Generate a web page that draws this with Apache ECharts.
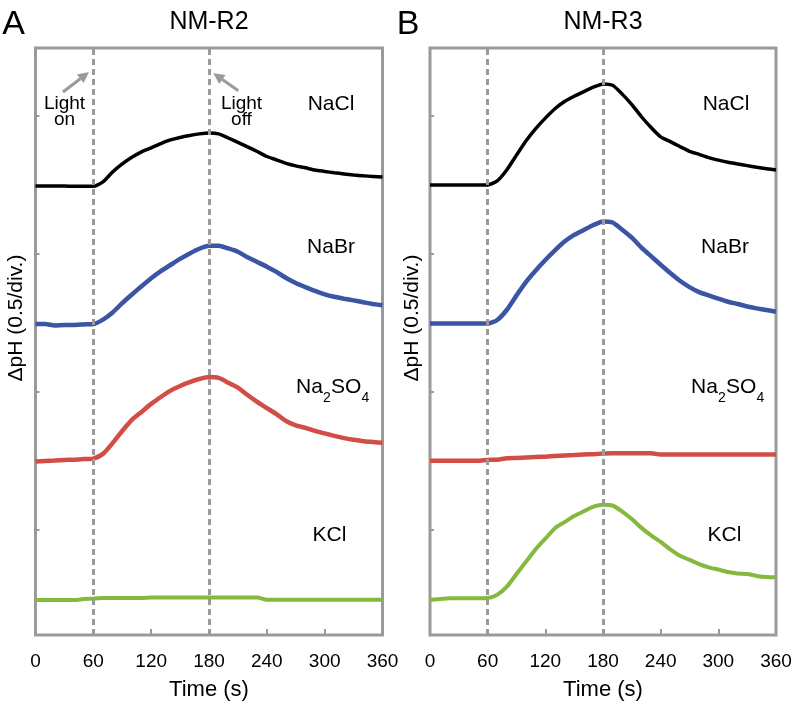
<!DOCTYPE html>
<html><head><meta charset="utf-8">
<script src="https://cdn.jsdelivr.net/npm/echarts@6/dist/echarts.min.js"></script>
<style>html,body{margin:0;padding:0;background:#fff}#c{width:796px;height:708px}</style>
</head><body><div id="c"></div>
<script>
// Time axis (s)
const times = [0,10,20,30,40,50,60,70,80,90,100,110,120,130,140,150,160,170,180,190,200,210,220,230,240,250,260,270,280,290,300,310,320,330,340,350,360];
const xTicks = [0,60,120,180,240,300,360];
const lightTimes = [60,180];
const yDivTicks = [0.5,1,1.5,2];   // 0.5 pH per division

// Panel A: NM-R2 (traces offset vertically, values in pH units)
const r2NaCl  = [1.746,1.746,1.746,1.746,1.745,1.745,1.745,1.761,1.797,1.826,1.850,1.870,1.884,1.900,1.913,1.922,1.929,1.935,1.938,1.935,1.920,1.904,1.888,1.871,1.853,1.841,1.828,1.819,1.812,1.804,1.799,1.794,1.790,1.786,1.783,1.781,1.779];
const r2NaBr  = [1.246,1.246,1.241,1.243,1.243,1.245,1.246,1.262,1.288,1.322,1.353,1.383,1.412,1.438,1.460,1.482,1.502,1.519,1.530,1.530,1.520,1.508,1.488,1.471,1.454,1.435,1.413,1.395,1.380,1.366,1.354,1.345,1.338,1.332,1.325,1.319,1.314];
const r2Na2SO4= [0.748,0.750,0.752,0.754,0.755,0.757,0.759,0.776,0.815,0.859,0.899,0.928,0.957,0.982,1.005,1.022,1.036,1.047,1.054,1.051,1.034,1.016,0.989,0.964,0.942,0.920,0.895,0.879,0.870,0.859,0.850,0.841,0.833,0.827,0.822,0.819,0.816];
const r2KCl   = [0.247,0.247,0.247,0.247,0.247,0.250,0.252,0.254,0.254,0.254,0.254,0.254,0.256,0.256,0.256,0.256,0.256,0.256,0.256,0.256,0.256,0.256,0.256,0.256,0.248,0.248,0.248,0.248,0.248,0.248,0.248,0.248,0.248,0.248,0.248,0.248,0.248];

// Panel B: NM-R3
const r3NaCl  = [1.750,1.750,1.750,1.750,1.750,1.750,1.750,1.765,1.805,1.858,1.910,1.954,1.992,2.026,2.052,2.071,2.088,2.104,2.116,2.111,2.079,2.041,1.997,1.958,1.924,1.907,1.889,1.872,1.861,1.849,1.840,1.832,1.826,1.820,1.814,1.809,1.804];
const r3NaBr  = [1.248,1.248,1.248,1.248,1.248,1.248,1.248,1.261,1.298,1.350,1.399,1.440,1.478,1.513,1.545,1.569,1.587,1.605,1.618,1.614,1.588,1.559,1.523,1.492,1.461,1.431,1.403,1.380,1.362,1.350,1.338,1.327,1.319,1.310,1.303,1.297,1.291];
const r3Na2SO4= [0.751,0.751,0.751,0.751,0.751,0.751,0.754,0.755,0.760,0.761,0.763,0.765,0.766,0.768,0.770,0.772,0.774,0.775,0.777,0.778,0.778,0.778,0.778,0.778,0.774,0.774,0.774,0.774,0.774,0.774,0.774,0.774,0.774,0.774,0.774,0.774,0.774];
const r3KCl   = [0.248,0.250,0.253,0.253,0.253,0.253,0.254,0.266,0.295,0.341,0.386,0.431,0.469,0.507,0.529,0.551,0.568,0.585,0.592,0.589,0.567,0.540,0.508,0.481,0.457,0.430,0.407,0.392,0.377,0.365,0.357,0.348,0.343,0.341,0.334,0.330,0.329];

const panels = [
  {title:'NM-R2', letter:'A', series:[r2NaCl, r2NaBr, r2Na2SO4, r2KCl]},
  {title:'NM-R3', letter:'B', series:[r3NaCl, r3NaBr, r3Na2SO4, r3KCl]}
];
const colors = ['#000000','#3a55a3','#d24d45','#84b93e'];
const widths = [3.5,4.5,4.5,4];
const FONT = '"Liberation Sans", Arial, Helvetica, sans-serif';
const GRAY = '#9a9a9a';

const chart = echarts.init(document.getElementById('c'), null, {renderer:'canvas'});
const pair = vals => times.map((t,i)=>[t, vals[i]]);

const grids = [
  {left:35.5, right:413.5, top:48, bottom:73, show:true, borderColor:GRAY, borderWidth:3, backgroundColor:'transparent'},
  {left:430, right:20, top:48, bottom:73, show:true, borderColor:GRAY, borderWidth:3, backgroundColor:'transparent'}
];
const xAxes = [0,1].map(i=>({
  gridIndex:i, type:'value', min:0, max:360, interval:60,
  axisLine:{show:false},
  axisTick:{show:true, inside:true, length:6, lineStyle:{color:GRAY, width:2}},
  axisLabel:{fontSize:19, color:'#000', margin:17, fontFamily:FONT, customValues:xTicks},
  splitLine:{show:false}
}));
const yAxes = [0,1].map(i=>({
  gridIndex:i, type:'value', min:0.12, max:2.246,
  axisLine:{show:false},
  axisTick:{show:true, inside:true, length:4, customValues:yDivTicks, lineStyle:{color:GRAY, width:2}},
  axisLabel:{show:false},
  splitLine:{show:false}
}));

const series = [];
panels.forEach((p,i)=>{
  series.push({
    type:'line', xAxisIndex:i, yAxisIndex:i, data:[], z:1, silent:true,
    markLine:{silent:true, symbol:['none','none'], label:{show:false}, animation:false,
      lineStyle:{type:[6,4], color:GRAY, width:3},
      data: lightTimes.map(t=>({xAxis:t}))}
  });
  p.series.forEach((vals,k)=>{
    series.push({type:'line', xAxisIndex:i, yAxisIndex:i, data:pair(vals), showSymbol:false, symbol:'none',
      smooth:0.2,
      lineStyle:{color:colors[k], width:widths[k]}, z:3, animation:false, silent:true});
  });
});

function txt(x,y,text,size,extra){
  return Object.assign({type:'text', x:x, y:y, silent:true,
    style:{text:text, fontSize:size, fontFamily:FONT, fill:'#000', align:'center', verticalAlign:'middle'}}, extra||{});
}
function ltxt(x,y,text,size){
  return {type:'text', x:x, y:y, silent:true,
    style:{text:text, fontSize:size, fontFamily:FONT, fill:'#000', align:'left', verticalAlign:'middle'}};
}
// Na2SO4 with subscripts, starting at left edge x, main text centred at y
function na2so4(x,y){
  return [ltxt(x,y,'Na',21), ltxt(x+27,y+11,'2',14), ltxt(x+35,y,'SO',21), ltxt(x+65.5,y+11,'4',14)];
}
const elements = [
  txt(13.5,24.5,'A',34), txt(408,24.5,'B',34),
  txt(209,22.5,'NM-R2',25), txt(603,22.5,'NM-R3',25),
  txt(331,104,'NaCl',21), txt(726,104,'NaCl',21),
  txt(331,247,'NaBr',21), txt(725,247,'NaBr',21),
  ...na2so4(296,387), ...na2so4(691,387),
  txt(329.5,535.5,'KCl',21), txt(724.5,535.5,'KCl',21),
  txt(209,690,'Time (s)',22), txt(603,690,'Time (s)',22),
  txt(16.5,318,'ΔpH (0.5/div.)',21,{rotation:Math.PI/2}),
  txt(412.5,318,'ΔpH (0.5/div.)',21,{rotation:Math.PI/2}),
  {type:'text', x:64.5, y:112, silent:true, style:{text:'Light\non', fontSize:19, lineHeight:16, fontFamily:FONT, fill:'#000', align:'center', verticalAlign:'middle'}},
  {type:'text', x:241.5, y:112, silent:true, style:{text:'Light\noff', fontSize:19, lineHeight:16, fontFamily:FONT, fill:'#000', align:'center', verticalAlign:'middle'}},
  {type:'line', silent:true, shape:{x1:63, y1:92, x2:80.3, y2:78.7}, style:{stroke:GRAY, lineWidth:3}},
  {type:'polygon', silent:true, shape:{points:[[89,72],[83.6,83.1],[76.9,74.4]]}, style:{fill:GRAY}},
  {type:'line', silent:true, shape:{x1:238.3, y1:90.7, x2:222.3, y2:79.6}, style:{stroke:GRAY, lineWidth:3}},
  {type:'polygon', silent:true, shape:{points:[[213.3,73.3],[225.5,75.1],[219.2,84.1]]}, style:{fill:GRAY}}
];

chart.setOption({
  animation:false,
  backgroundColor:'#fff',
  grid:grids, xAxis:xAxes, yAxis:yAxes, series:series,
  graphic:{elements:elements}
});
</script>
</body></html>
